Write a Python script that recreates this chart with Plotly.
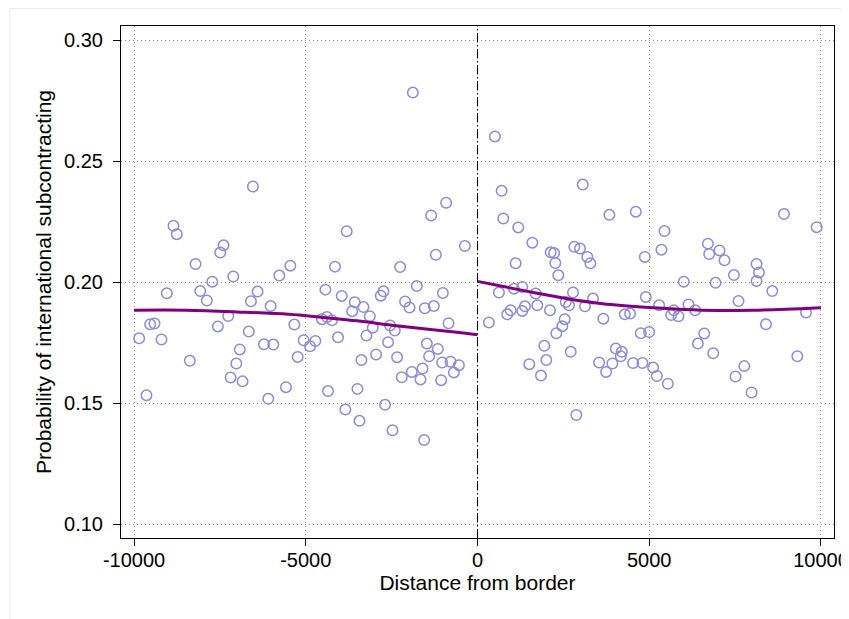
import plotly.graph_objects as go

# ---- data ----
left_x = [-6539, -8851, -8755, -7394, -7490, -8210, -5449, -7723, -7111, -5770,
          -9046, -8073, -7880, -6402, -6597, -6023, -9851, -9531, -9405, -9201,
          -8376, -9638, -7560, -7257, -6659, -6921, -7023, -7189, -6840, -6218,
          -5945, -6092, -5577, -5333, -5236, -3808, -4149, -2254, -1350, -912,
          -1213, -367, -4429, -3953, -3574, -3321, -2816, -2738, -1767, -2108,
          -1980, -1534, -1271, -1009, -4528, -4382, -4236, -5061, -4877, -4721,
          -4061, -3650, -3137, -3233, -3050, -3380, -2953, -2603, -2545, -2408,
          -2341, -843, -1475, -1155, -1408, -1601, -1913, -2204, -1659, -1029,
          -784, -542, -688, -1058, -4353, -3496, -3846, -3437, -2691, -2475,
          -1554, -1883]
left_y = [0.2395, 0.2233, 0.2198, 0.2152, 0.2122, 0.2075, 0.2068, 0.2002, 0.2023, 0.2027,
          0.1954, 0.1963, 0.1924, 0.1961, 0.1921, 0.1901, 0.1768, 0.1826, 0.1829, 0.1763,
          0.1675, 0.1533, 0.1817, 0.1860, 0.1796, 0.1722, 0.1664, 0.1606, 0.1590, 0.1743,
          0.1742, 0.1518, 0.1566, 0.1825, 0.1691, 0.2210, 0.2064, 0.2062, 0.2275, 0.2328,
          0.2113, 0.2149, 0.1969, 0.1943, 0.1917, 0.1897, 0.1944, 0.1962, 0.1984, 0.1920,
          0.1895, 0.1892, 0.1901, 0.1955, 0.1847, 0.1856, 0.1842, 0.1760, 0.1735, 0.1757,
          0.1772, 0.1880, 0.1859, 0.1779, 0.1812, 0.1678, 0.1701, 0.1752, 0.1821, 0.1800,
          0.1690, 0.1830, 0.1746, 0.1724, 0.1694, 0.1643, 0.1629, 0.1607, 0.1598, 0.1668,
          0.1671, 0.1657, 0.1627, 0.1595, 0.1550, 0.1559, 0.1474, 0.1427, 0.1493, 0.1388,
          0.1348, 0.2783]

right_x = [507, 703, 750, 1187, 1595, 1110, 2130, 2230, 2266, 2353,
           2819, 2985, 3198, 3286, 3064, 3840, 4609, 4872, 4901, 624,
           1061, 1303, 1694, 2781, 3364, 332, 866, 965, 1303, 1382,
           1741, 2111, 2569, 2665, 3131, 3665, 2539, 2470, 2295, 4289,
           4443, 4755, 4997, 1945, 2714, 2003, 1508, 1848, 3539, 3743,
           3927, 4026, 4201, 4172, 4531, 4802, 2878, 5443, 5356, 6708,
           6746, 7047, 7192, 7466, 6006, 6930, 8125, 8195, 8125, 8583,
           8924, 9875, 5289, 5717, 6143, 6338, 7600, 5638, 5851, 9565,
           8399, 6601, 6417, 6863, 9312, 5114, 5222, 5542, 7767, 7513,
           7980]
right_y = [0.2602, 0.2377, 0.2263, 0.2226, 0.2163, 0.2078, 0.2123, 0.2120, 0.2079, 0.2028,
           0.2146, 0.2139, 0.2104, 0.2078, 0.2403, 0.2278, 0.2291, 0.2104, 0.1939, 0.1957,
           0.1973, 0.1980, 0.1953, 0.1957, 0.1932, 0.1833, 0.1867, 0.1884, 0.1881, 0.1900,
           0.1904, 0.1884, 0.1918, 0.1904, 0.1900, 0.1849, 0.1847, 0.1818, 0.1789, 0.1867,
           0.1870, 0.1789, 0.1794, 0.1737, 0.1712, 0.1678, 0.1661, 0.1614, 0.1668, 0.1629,
           0.1664, 0.1726, 0.1712, 0.1694, 0.1666, 0.1666, 0.1451, 0.2211, 0.2134, 0.2159,
           0.2116, 0.2131, 0.2090, 0.2029, 0.2002, 0.1997, 0.2075, 0.2040, 0.2005, 0.1963,
           0.2281, 0.2227, 0.1904, 0.1884, 0.1908, 0.1884, 0.1922, 0.1864, 0.1859, 0.1874,
           0.1826, 0.1788, 0.1746, 0.1706, 0.1694, 0.1647, 0.1612, 0.1580, 0.1653, 0.1610,
           0.1544]

fit_left_x = [-10000, -8500, -7000, -5500, -4500, -3500, -2500, -1500, -600, 0]
fit_left_y = [0.1884, 0.1884, 0.1877, 0.1867, 0.1854, 0.1840, 0.1822, 0.1806, 0.1793, 0.1783]
fit_right_x = [0, 720, 1700, 2665, 3636, 5000, 6000, 7000, 8000, 9000, 10000]
fit_right_y = [0.2003, 0.1983, 0.1955, 0.1930, 0.1911, 0.1895, 0.1887, 0.1883, 0.1884, 0.1888, 0.1894]

x_ticks = [-10000, -5000, 0, 5000, 10000]
x_tick_labels = ["-10000", "-5000", "0", "5000", "10000"]
y_ticks = [0.10, 0.15, 0.20, 0.25, 0.30]
y_tick_labels = ["0.10", "0.15", "0.20", "0.25", "0.30"]

x_title = "Distance from border"
y_title = "Probability of international subcontracting"

# ---- styling ----
FONT = "Liberation Sans, Arial, sans-serif"
MARKER_COLOR = "#8b8bd8"
LINE_COLOR = "#800080"

fig = go.Figure()
for xs, ys in [(left_x, left_y), (right_x, right_y)]:
    fig.add_trace(go.Scatter(
        x=xs, y=ys, mode="markers",
        marker=dict(symbol="circle-open", size=10.5, color=MARKER_COLOR,
                    line=dict(width=1.5, color=MARKER_COLOR)),
        showlegend=False, hoverinfo="x+y"))
for xs, ys in [(fit_left_x, fit_left_y), (fit_right_x, fit_right_y)]:
    fig.add_trace(go.Scatter(
        x=xs, y=ys, mode="lines",
        line=dict(color=LINE_COLOR, width=3, shape="spline"),
        showlegend=False))

fig.add_shape(type="line", x0=0, x1=0, xref="x", y0=0, y1=1, yref="paper",
              line=dict(color="black", width=1, dash="9px,3px,1px,3px"), layer="above")
# outer graph-region border
fig.add_shape(type="rect", xref="paper", yref="paper",
              x0=-0.1557, x1=1.1, y0=-0.3, y1=1.0342,
              line=dict(color="#ececec", width=1), layer="below")

axis_common = dict(
    showline=True, mirror=True, linecolor="black", linewidth=1,
    ticks="outside", ticklen=7, tickwidth=1, tickcolor="black",
    showgrid=True, gridcolor="#8a8a8a", gridwidth=1, griddash="1px,3px",
    zeroline=False, tickfont=dict(family=FONT, size=20, color="black"),
)

fig.update_xaxes(range=[-10380, 10380], tickvals=x_ticks, ticktext=x_tick_labels,
                 ticklabelstandoff=-3,
                 title=dict(text=x_title, font=dict(family=FONT, size=21, color="black"),
                            standoff=2),
                 **axis_common)
fig.update_yaxes(range=[0.0943, 0.3058], tickvals=y_ticks, ticktext=y_tick_labels,
                 ticklabelstandoff=6,
                 title=dict(text=y_title, font=dict(family=FONT, size=21, color="black"),
                            standoff=6),
                 **axis_common)

# the page body adds an 8px offset, so the figure is sized to fit the window
fig.update_layout(
    width=841, height=611,
    margin=dict(l=113, r=15, t=18, b=81, autoexpand=False),
    paper_bgcolor="white", plot_bgcolor="white",
    font=dict(family=FONT, color="black"),
)

fig.write_html("out.html")
